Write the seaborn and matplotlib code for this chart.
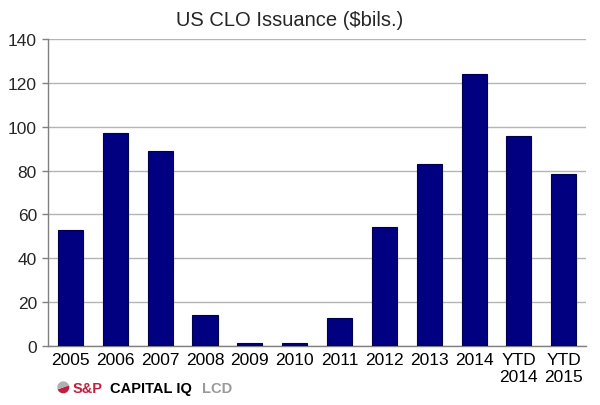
import matplotlib
matplotlib.use("Agg")
import matplotlib.pyplot as plt
import seaborn as sns
import pandas as pd

categories = ["2005", "2006", "2007", "2008", "2009", "2010", "2011",
              "2012", "2013", "2014", "YTD\n2014", "YTD\n2015"]
issuance = [52.9, 97.1, 89.0, 14.1, 1.2, 1.5, 12.7, 54.4, 82.8, 124.0, 95.7, 78.4]
y_ticks = [0, 20, 40, 60, 80, 100, 120, 140]

df = pd.DataFrame({"Year": categories, "Issuance": issuance})

sns.set_style("white")
plt.rcParams["font.family"] = ["Liberation Sans", "DejaVu Sans"]

fig = plt.figure(figsize=(6.0, 4.06), dpi=100)
ax = fig.add_axes([0.08, 0.1453, 0.897, 0.7562])

sns.barplot(data=df, x="Year", y="Issuance", color="#000080", width=0.56,
            edgecolor="#00004d", linewidth=0.8, saturation=1, ax=ax, zorder=3)

ax.set_ylim(0, 140)
ax.set_xlim(-0.5, len(categories) - 0.5)
ax.set_yticks(y_ticks)
ax.yaxis.grid(True, color="#b4b4b4", linewidth=1.0, zorder=0)
ax.set_axisbelow(True)
ax.set_xlabel("")
ax.set_ylabel("")

for s in ["top", "right"]:
    ax.spines[s].set_visible(False)
for s in ["left", "bottom"]:
    ax.spines[s].set_color("#808080")
    ax.spines[s].set_linewidth(1.0)

# category boundary ticks on x axis
ax.set_xticks([i - 0.5 for i in range(len(categories) + 1)], minor=True)
ax.tick_params(axis="x", which="major", length=0, labelsize=12.5, pad=4, colors="black")
ax.tick_params(axis="x", which="minor", length=9, direction="inout", color="#707070", width=1)
ax.tick_params(axis="y", which="major", length=4, direction="out", color="#808080",
               width=1, labelsize=12.5, pad=4, left=True)

fig.text(0.482, 0.937, "US CLO Issuance ($bils.)", ha="center", va="baseline", fontsize=14.5)

# source logo
logo_ax = fig.add_axes([0.093, 0.025, 0.025, 0.037])
logo_ax.pie([1, 1], colors=["#c0203f", "#b0b0b0"], startangle=200,
            wedgeprops={"linewidth": 0})
logo_ax.set_aspect("equal")
logo_ax.axis("off")
fig.text(0.121, 0.031, "S&P", color="#c0203f", fontsize=10.5, fontweight="bold")
fig.text(0.183, 0.031, "CAPITAL IQ", color="black", fontsize=10.5, fontweight="bold")
fig.text(0.336, 0.031, "LCD", color="#9a9a9a", fontsize=10.5, fontweight="bold")

fig.savefig("out.png", dpi=100)
